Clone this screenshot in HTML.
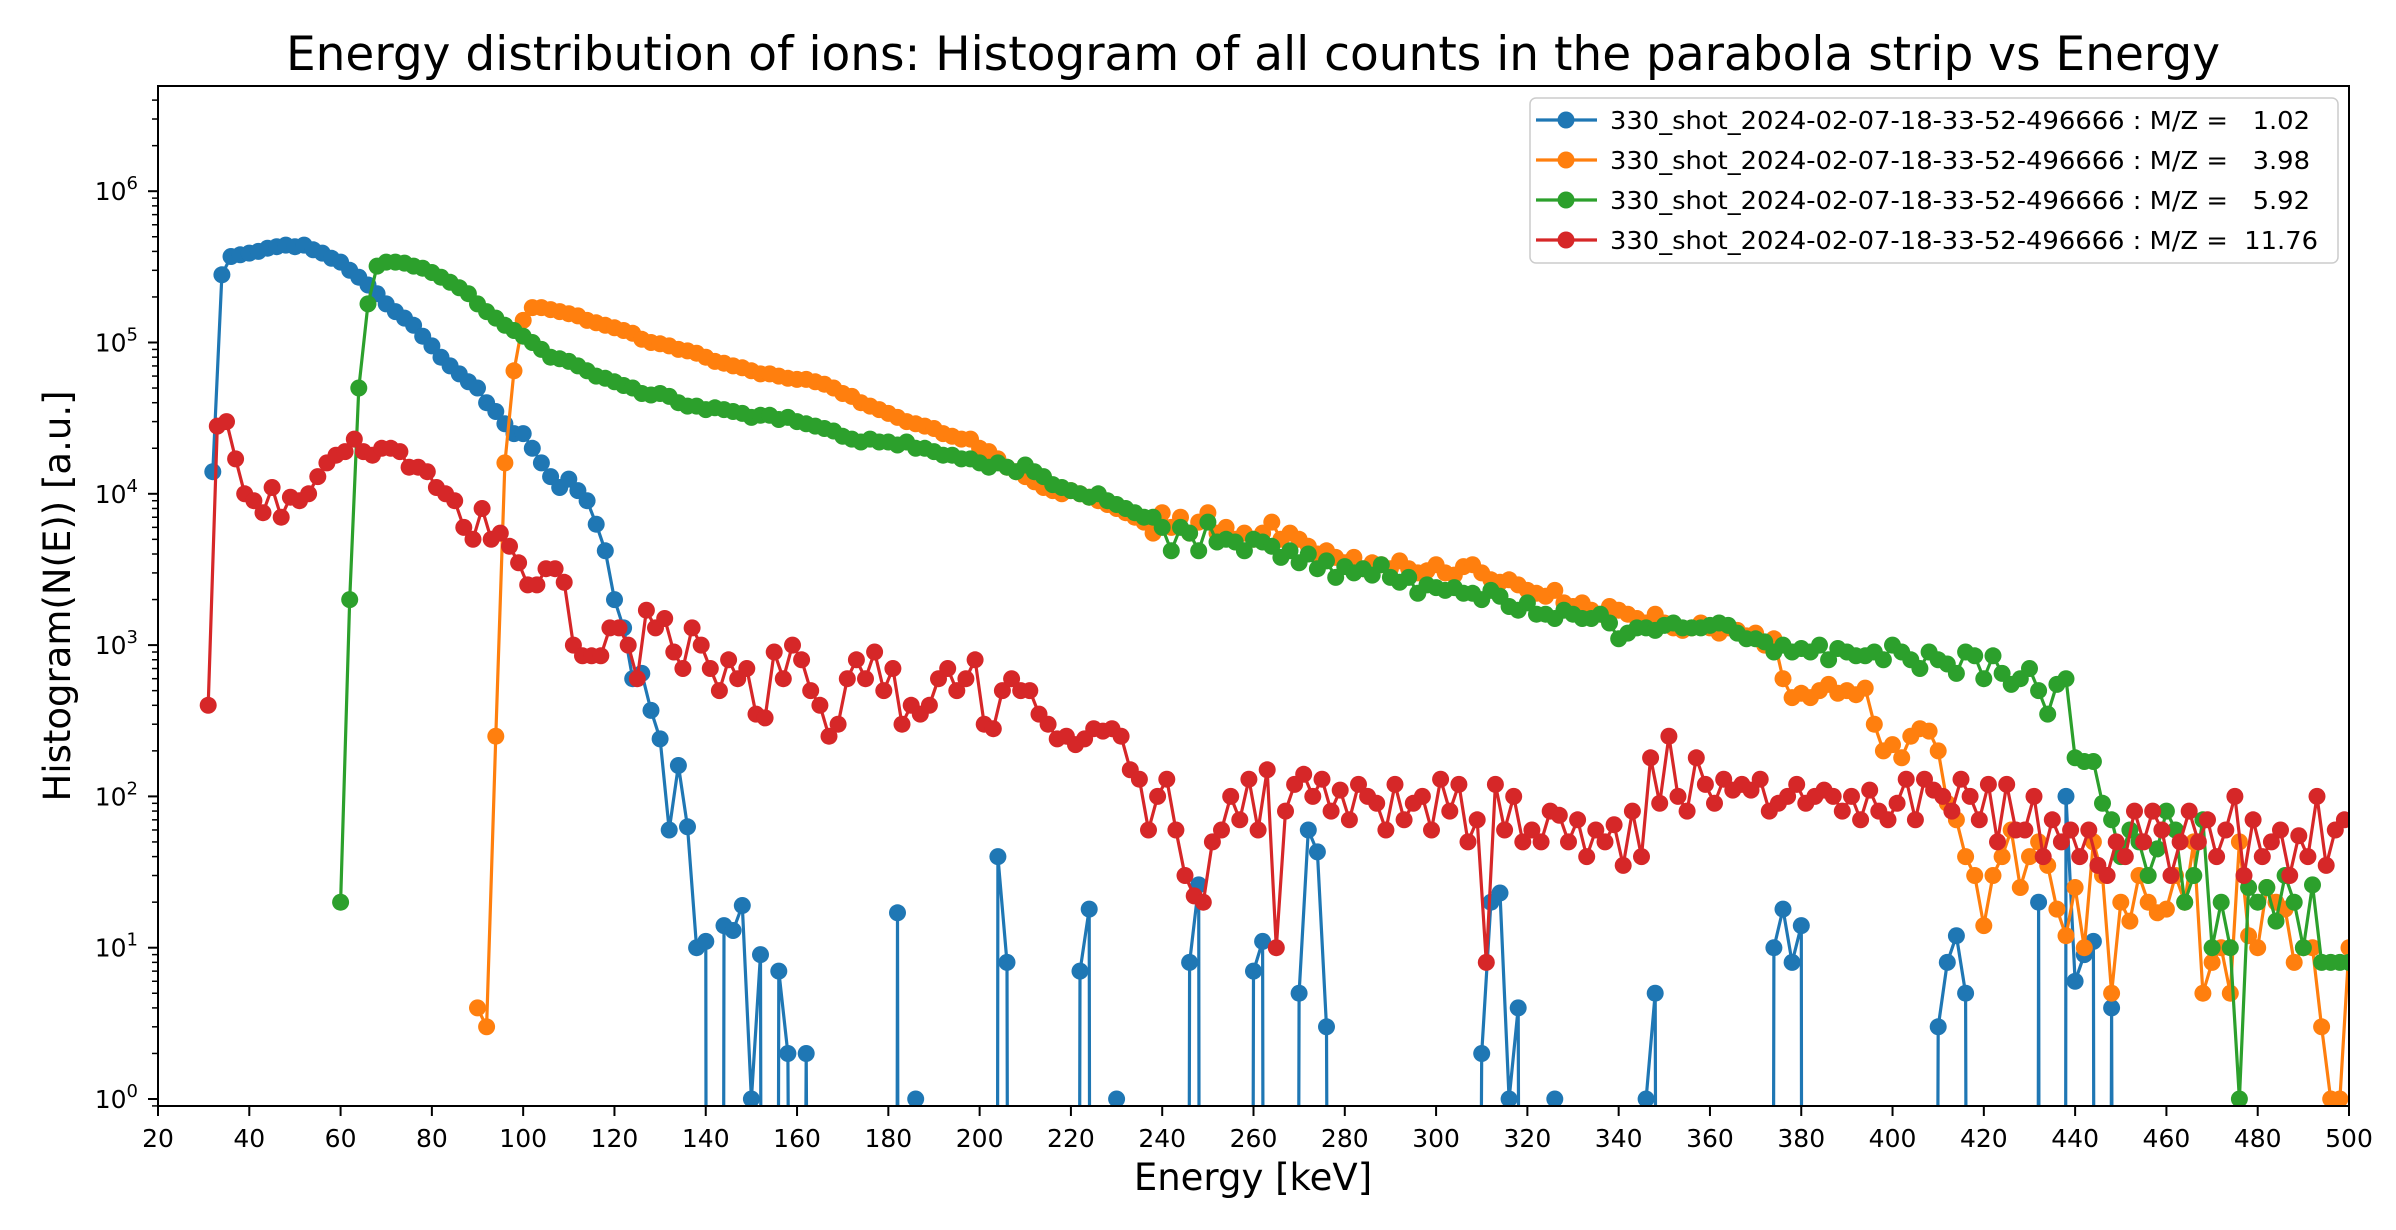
<!DOCTYPE html>
<html><head><meta charset="utf-8"><style>
html,body{margin:0;padding:0;background:#fff;overflow:hidden;width:2396px;height:1230px}
svg{display:block;font-family:"DejaVu Sans","Liberation Sans",sans-serif}
</style></head><body>
<svg id="chart" width="2396" height="1230" viewBox="0 0 2396 1230" xmlns="http://www.w3.org/2000/svg" overflow="hidden">
<rect x="0" y="0" width="2396" height="1230" fill="#fff"/>
<text x="1253" y="70" font-size="47" text-anchor="middle" fill="#000">Energy distribution of ions: Histogram of all counts in the parabola strip vs Energy</text>
<defs><clipPath id="plotclip"><rect x="158" y="86" width="2191" height="1020"/></clipPath></defs>
<g id="series" clip-path="url(#plotclip)"></g>
<g id="axes"></g>
<text x="1253" y="1190" font-size="37" text-anchor="middle" fill="#000">Energy [keV]</text>
<text transform="translate(70,596) rotate(-90)" font-size="37" text-anchor="middle" fill="#000">Histogram(N(E)) [a.u.]</text>
<g id="legend"></g>
</svg>
<script>
const blueStart = 32, orangeStart = 90, greenStart = 60, redStart = 31, stepKeV = 2;
const blueValues = [1.4e4,2.8e5,3.7e5,3.8e5,3.9e5,4e5,4.2e5,4.3e5,4.4e5,4.3e5,
4.4e5,4.1e5,3.9e5,3.6e5,3.4e5,3e5,2.7e5,2.4e5,2.1e5,1.8e5,
1.6e5,1.45e5,1.3e5,1.1e5,9.5e4,8e4,7e4,6.2e4,5.5e4,5e4,
4e4,3.5e4,2.9e4,2.5e4,2.5e4,2e4,1.6e4,1.3e4,1.1e4,1.25e4,
1.05e4,9e3,6.3e3,4.2e3,2e3,1.3e3,600,650,370,240,
60,160,63,10,11,0,14,13,19,1,
9,0,7,2,0,2,0,0,0,0,
0,0,0,0,0,17,0,1,0,0,
0,0,0,0,0,0,40,8,0,0,
0,0,0,0,0,7,18,0,0,1,
0,0,0,0,0,0,0,8,26,0,
0,0,0,0,7,11,0,0,0,5,
60,43,3,0,0,0,0,0,0,0,
0,0,0,0,0,0,0,0,0,2,
20,23,1,4,0,0,0,1,0,0,
0,0,0,0,0,0,0,1,5,0,
0,0,0,0,0,0,0,0,0,0,
0,10,18,8,14,0,0,0,0,0,
0,0,0,0,0,0,0,0,0,3,
8,12,5,0,0,0,0,0,0,0,
20,0,0,100,6,9,11,0,4,0,
0,0,0,0,0,0,0,0,0,0,
0,0,0,0,0,0,0,0,0,0,
0,0,0,0,0];
const orangeValues = [4,3,250,1.6e4,6.5e4,1.4e5,1.7e5,1.7e5,1.65e5,1.6e5,
1.55e5,1.5e5,1.4e5,1.35e5,1.3e5,1.25e5,1.2e5,1.15e5,1.05e5,1e5,
9.8e4,9.5e4,9e4,8.8e4,8.5e4,8e4,7.5e4,7.3e4,7e4,6.8e4,
6.5e4,6.2e4,6.2e4,6e4,5.8e4,5.7e4,5.7e4,5.5e4,5.3e4,5e4,
4.6e4,4.4e4,4e4,3.8e4,3.6e4,3.4e4,3.2e4,3e4,2.9e4,2.8e4,
2.7e4,2.5e4,2.4e4,2.3e4,2.3e4,2e4,1.9e4,1.7e4,1.5e4,1.4e4,
1.3e4,1.2e4,1.1e4,1.05e4,1e4,1.05e4,1e4,9.5e3,9e3,8.5e3,
8e3,7.5e3,7e3,6.5e3,5.5e3,7.5e3,6e3,7e3,5.5e3,6.5e3,
7.5e3,5.5e3,6e3,5e3,5.5e3,5e3,5.5e3,6.5e3,5e3,5.5e3,
5e3,4.5e3,4e3,4.2e3,3.8e3,3.5e3,3.8e3,3.2e3,3.5e3,3.4e3,
3.2e3,3.6e3,3.2e3,3e3,3.1e3,3.4e3,3e3,2.9e3,3.3e3,3.4e3,
3e3,2.7e3,2.6e3,2.7e3,2.5e3,2.3e3,2.2e3,2.1e3,2.3e3,1.9e3,
1.8e3,1.9e3,1.7e3,1.6e3,1.8e3,1.7e3,1.6e3,1.5e3,1.4e3,1.6e3,
1.4e3,1.3e3,1.25e3,1.3e3,1.4e3,1.3e3,1.2e3,1.3e3,1.25e3,1.15e3,
1.2e3,1e3,1.1e3,600,450,480,450,500,550,480,
500,470,520,300,200,220,180,250,280,270,
200,90,70,40,30,14,30,40,60,25,
40,50,35,18,12,25,10,50,30,5,
20,15,30,20,17,18,30,20,50,5,
8,10,5,50,12,10,25,20,18,8,
10,10,3,1,1,10];
const greenValues = [20,2e3,5e4,1.8e5,3.2e5,3.4e5,3.4e5,3.35e5,3.2e5,3.1e5,
2.9e5,2.7e5,2.5e5,2.3e5,2.1e5,1.8e5,1.6e5,1.45e5,1.3e5,1.2e5,
1.1e5,1e5,9e4,8e4,7.8e4,7.5e4,7e4,6.5e4,6e4,5.8e4,
5.5e4,5.2e4,5e4,4.6e4,4.5e4,4.6e4,4.4e4,4e4,3.8e4,3.8e4,
3.6e4,3.7e4,3.6e4,3.5e4,3.4e4,3.2e4,3.3e4,3.3e4,3.1e4,3.2e4,
3e4,2.9e4,2.8e4,2.7e4,2.6e4,2.4e4,2.3e4,2.2e4,2.3e4,2.2e4,
2.2e4,2.1e4,2.2e4,2e4,2e4,1.9e4,1.8e4,1.8e4,1.7e4,1.7e4,
1.6e4,1.5e4,1.6e4,1.5e4,1.4e4,1.55e4,1.4e4,1.3e4,1.15e4,1.1e4,
1.05e4,1e4,9.5e3,1e4,9e3,8.5e3,8e3,7.5e3,7e3,7e3,
6e3,4.2e3,6e3,5.5e3,4.2e3,6.5e3,4.8e3,5e3,4.8e3,4.2e3,
5e3,4.8e3,4.5e3,3.8e3,4.2e3,3.5e3,4e3,3.2e3,3.6e3,2.8e3,
3.3e3,3e3,3.2e3,2.9e3,3.4e3,2.8e3,2.6e3,2.8e3,2.2e3,2.5e3,
2.4e3,2.3e3,2.4e3,2.2e3,2.2e3,2e3,2.3e3,2.1e3,1.8e3,1.7e3,
1.9e3,1.6e3,1.6e3,1.5e3,1.7e3,1.6e3,1.5e3,1.5e3,1.6e3,1.4e3,
1.1e3,1.2e3,1.3e3,1.3e3,1.25e3,1.35e3,1.4e3,1.3e3,1.3e3,1.3e3,
1.35e3,1.4e3,1.35e3,1.2e3,1.1e3,1.1e3,1.05e3,900,1e3,900,
950,900,1e3,800,950,900,850,850,900,800,
1e3,900,800,700,900,800,750,650,900,850,
600,850,650,550,600,700,500,350,550,600,
180,170,170,90,70,40,60,50,30,45,
80,60,20,30,70,10,20,10,1,25,
20,25,15,30,20,10,26,8,8,8,
8];
const redValues = [400,2.8e4,3e4,1.7e4,1e4,9e3,7.5e3,1.1e4,7e3,9.5e3,
9e3,1e4,1.3e4,1.6e4,1.8e4,1.9e4,2.3e4,1.9e4,1.8e4,2e4,
2e4,1.9e4,1.5e4,1.5e4,1.4e4,1.1e4,1e4,9e3,6e3,5e3,
8e3,5e3,5.5e3,4.5e3,3.5e3,2.5e3,2.5e3,3.2e3,3.2e3,2.6e3,
1e3,850,850,850,1.3e3,1.3e3,1e3,600,1.7e3,1.3e3,
1.5e3,900,700,1.3e3,1e3,700,500,800,600,700,
350,330,900,600,1e3,800,500,400,250,300,
600,800,600,900,500,700,300,400,350,400,
600,700,500,600,800,300,280,500,600,500,
500,350,300,240,250,220,240,280,270,280,
250,150,130,60,100,130,60,30,22,20,
50,60,100,70,130,60,150,10,80,120,
140,100,130,80,110,70,120,100,90,60,
120,70,90,100,60,130,80,120,50,70,
8,120,60,100,50,60,50,80,75,50,
70,40,60,50,65,35,80,40,180,90,
250,100,80,180,120,90,130,110,120,110,
130,80,90,100,120,90,100,110,100,80,
100,70,110,80,70,90,130,70,130,110,
100,80,130,100,70,120,50,120,60,60,
100,40,70,50,60,40,60,35,30,50,
40,80,50,80,60,30,50,80,50,70,
40,60,100,30,70,40,50,60,30,55,
40,100,35,60,70];
const xTickLabels = ["20","40","60","80","100","120","140","160","180","200","220","240","260","280","300","320","340","360","380","400","420","440","460","480","500"];
const yTickExponents = [0,1,2,3,4,5,6];
const legendLabels = ["330_shot_2024-02-07-18-33-52-496666 : M/Z =   1.02","330_shot_2024-02-07-18-33-52-496666 : M/Z =   3.98","330_shot_2024-02-07-18-33-52-496666 : M/Z =   5.92","330_shot_2024-02-07-18-33-52-496666 : M/Z =  11.76"];

const NS = "http://www.w3.org/2000/svg";
const PL = 158, PR = 2349, PT = 86, PB = 1106;
const XMIN = 20, XMAX = 500;
const Y0PX = 1099, DEC = 151.3;
function xScale(v){ return PL + (v - XMIN) / (XMAX - XMIN) * (PR - PL); }
function yScale(v){ return Y0PX - Math.log10(v) * DEC; }
function mk(tag, attrs, parent){ const e = document.createElementNS(NS, tag); for (const k in attrs) e.setAttribute(k, attrs[k]); parent.appendChild(e); return e; }

const seriesG = document.getElementById('series');
const specs = [
  {name:'blue', color:'#1f77b4', start:blueStart, vals:blueValues},
  {name:'orange', color:'#ff7f0e', start:orangeStart, vals:orangeValues},
  {name:'green', color:'#2ca02c', start:greenStart, vals:greenValues},
  {name:'red', color:'#d62728', start:redStart, vals:redValues}
];
specs.forEach(s => {
  const g = mk('g', {}, seriesG);
  
  
  let d = '';
  const xs = s.vals.map((v, i) => xScale(s.start + i * stepKeV));
  for (let i = 0; i < s.vals.length - 1; i++) {
    const a = s.vals[i], b = s.vals[i + 1];
    if (a > 0 && b > 0) d += 'M' + xs[i].toFixed(1) + ',' + yScale(a).toFixed(1) + 'L' + xs[i+1].toFixed(1) + ',' + yScale(b).toFixed(1);
    else if (a > 0) d += 'M' + xs[i].toFixed(1) + ',' + yScale(a).toFixed(1) + 'L' + (xs[i] + 0.3).toFixed(1) + ',' + (PB + 4);
    else if (b > 0) d += 'M' + (xs[i+1] - 0.3).toFixed(1) + ',' + (PB + 4) + 'L' + xs[i+1].toFixed(1) + ',' + yScale(b).toFixed(1);
  }
  const line = mk('path', {d: d, fill:'none', stroke:s.color, 'stroke-width':3.2, 'stroke-linejoin':'round', 'stroke-linecap':'round'}, g);
  
  
  s.vals.forEach((v, i) => {
    if (v <= 0) return;
    const c = mk('circle', {cx:xs[i].toFixed(1), cy:yScale(v).toFixed(1), r:8.5, fill:s.color}, g);
    
    
  });
});

const axes = document.getElementById('axes');
const frame = mk('rect', {x:PL, y:PT, width:PR-PL, height:PB-PT, fill:'none', stroke:'#000', 'stroke-width':2}, axes);


xTickLabels.forEach(lbl => {
  const x = xScale(parseFloat(lbl));
  mk('line', {x1:x, y1:PB, x2:x, y2:PB+10, stroke:'#000', 'stroke-width':2}, axes);
  const t = mk('text', {x:x, y:1147, 'font-size':25, 'text-anchor':'middle', fill:'#000'}, axes);
  t.textContent = lbl;
  
  
});
yTickExponents.forEach(e => {
  const y = yScale(Math.pow(10, e));
  mk('line', {x1:PL-10, y1:y, x2:PL, y2:y, stroke:'#000', 'stroke-width':2}, axes);
  const t = mk('text', {x:138, y:y+9, 'font-size':25, 'text-anchor':'end', fill:'#000'}, axes);
  const a = mk('tspan', {}, t); a.textContent = '10';
  const b = mk('tspan', {dy:-11, 'font-size':18}, t); b.textContent = String(e);
  
  
});
for (let e = -1; e <= 6; e++) {
  for (let m = 2; m <= 9; m++) {
    const y = yScale(m * Math.pow(10, e));
    if (y < PT || y > PB) continue;
    mk('line', {x1:PL-6, y1:y, x2:PL, y2:y, stroke:'#000', 'stroke-width':1.5}, axes);
  }
}

const leg = document.getElementById('legend');
const box = mk('rect', {x:1530, y:98, width:808, height:165, rx:6, fill:'#fff', 'fill-opacity':0.85, stroke:'#ccc', 'stroke-width':1.5}, leg);


const rowY = [120, 160, 200, 240];
legendLabels.forEach((lbl, i) => {
  const g = mk('g', {}, leg);
  
  
  mk('line', {x1:1536, y1:rowY[i], x2:1597, y2:rowY[i], stroke:specs[i].color, 'stroke-width':3.2}, g);
  mk('circle', {cx:1566, cy:rowY[i], r:8.5, fill:specs[i].color}, g);
  const t = mk('text', {x:1610, y:rowY[i]+9, 'font-size':25, fill:'#000', textLength:i===3?708:700, lengthAdjust:'spacingAndGlyphs'}, g);
  t.setAttribute('style', 'white-space:pre');
  t.textContent = lbl;
});
</script>
</body></html>
